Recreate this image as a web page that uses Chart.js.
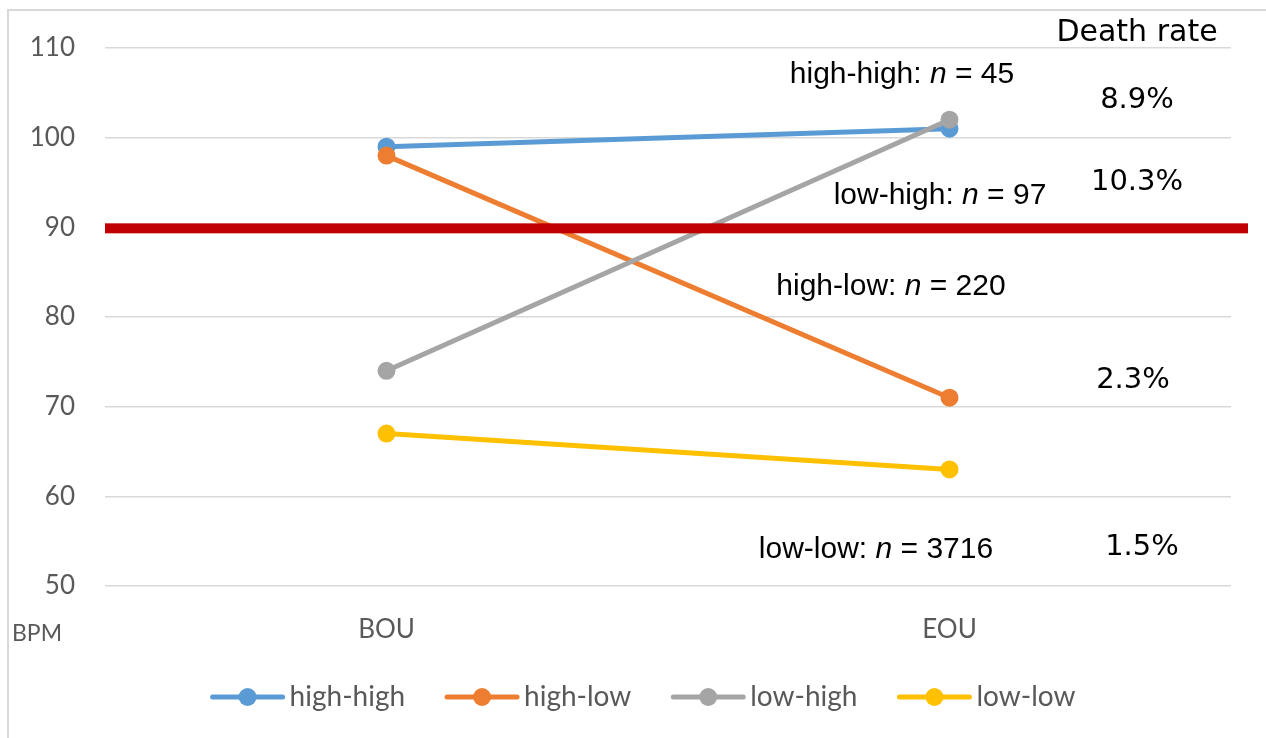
<!DOCTYPE html>
<html><head><meta charset="utf-8">
<script src="https://cdn.jsdelivr.net/npm/chart.js@4"></script>
<style>html,body{margin:0;padding:0;background:#fff;} #wrap{position:absolute;left:0;top:0;width:1266px;height:738px;}</style>
</head><body><div id="wrap"><canvas id="c"></canvas></div>
<script>
// ---- data ----
const categories = ['BOU', 'EOU'];
const seriesNames = ['high-high', 'high-low', 'low-high', 'low-low'];
const highHigh = [99, 101];
const highLow = [98, 71];
const lowHigh = [74, 102];
const lowLow = [67, 63];
const yTicks = [50, 60, 70, 80, 90, 100, 110];
const threshold = 90;
const groupLabels = ['high-high', 'low-high', 'high-low', 'low-low'];
const groupN = [45, 97, 220, 3716];
const deathRates = ['8.9%', '10.3%', '2.3%', '1.5%'];
const deathRateTitle = 'Death rate';
const yUnit = 'BPM';

// ---- styles / layout ----
const seriesColors = ['#5B9BD5', '#ED7D31', '#A5A5A5', '#FFC000'];
const annoLayout = {
  nX: [902, 940, 891, 876], nY: [107, 93.5, 83.35, 54.1],
  rateX: [1137, 1137, 1133, 1142], rateY: [104.2, 95, 72.9, 54.35],
  titleX: 1137, titleY: 111.7
};
const allSeries = [highHigh, highLow, lowHigh, lowLow];

const overlay = {
  id: 'overlay',
  beforeDraw(chart) {
    const ctx = chart.ctx;
    ctx.save();
    ctx.fillStyle = '#fff';
    ctx.fillRect(0, 0, chart.width, chart.height);
    ctx.strokeStyle = '#d9d9d9';
    ctx.lineWidth = 2;
    ctx.beginPath();
    ctx.moveTo(8, chart.height);
    ctx.lineTo(8, 10);
    ctx.lineTo(chart.width, 10);
    ctx.stroke();
    ctx.restore();
  },
  afterDatasetsDraw(chart) {
    const ctx = chart.ctx;
    const y = chart.scales.y;
    const area = chart.chartArea;
    ctx.save();
    // threshold line
    const ty = y.getPixelForValue(threshold);
    ctx.fillStyle = '#C00000';
    ctx.fillRect(area.left, ty - 4, area.right + 17 - area.left, 10);

    // group labels
    ctx.fillStyle = '#000';
    ctx.textBaseline = 'middle';
    const normal = '30px "Liberation Sans", Arial, sans-serif';
    const italic = 'italic 30px "Liberation Sans", Arial, sans-serif';
    groupLabels.forEach((g, i) => {
      const parts = [[g + ': ', normal], ['n', italic], [' = ' + groupN[i], normal]];
      let total = 0;
      parts.forEach(p => { ctx.font = p[1]; total += ctx.measureText(p[0]).width; });
      let x = annoLayout.nX[i] - total / 2;
      const py = y.getPixelForValue(annoLayout.nY[i]);
      ctx.textAlign = 'left';
      parts.forEach(p => { ctx.font = p[1]; ctx.fillText(p[0], x, py); x += ctx.measureText(p[0]).width; });
      ctx.font = '29px "DejaVu Sans", sans-serif';
      ctx.textAlign = 'center';
      ctx.fillText(deathRates[i], annoLayout.rateX[i], y.getPixelForValue(annoLayout.rateY[i]));
    });
    ctx.font = '30px "DejaVu Sans", sans-serif';
    ctx.textAlign = 'center';
    ctx.fillText(deathRateTitle, annoLayout.titleX, y.getPixelForValue(annoLayout.titleY));

    // unit label
    ctx.fillStyle = '#595959';
    ctx.font = '23px Lato, sans-serif';
    ctx.textAlign = 'left';
    ctx.fillText(yUnit, 12, 634);

    // legend
    const lineLen = 74, gapText = 5, gapItem = 40, ly = 697;
    ctx.font = '28px Lato, sans-serif';
    const widths = chart.data.datasets.map(d => lineLen + gapText + ctx.measureText(d.label).width);
    const totalW = widths.reduce((a, b) => a + b, 0) + gapItem * (widths.length - 1);
    let lx = 643 - totalW / 2;
    chart.data.datasets.forEach((d, i) => {
      ctx.strokeStyle = d.borderColor;
      ctx.lineWidth = 5;
      ctx.lineCap = 'round';
      ctx.beginPath();
      ctx.moveTo(lx + 2, ly);
      ctx.lineTo(lx + lineLen - 2, ly);
      ctx.stroke();
      ctx.fillStyle = d.borderColor;
      ctx.beginPath();
      ctx.arc(lx + lineLen / 2, ly, 9, 0, Math.PI * 2);
      ctx.fill();
      ctx.fillStyle = '#595959';
      ctx.textAlign = 'left';
      ctx.fillText(d.label, lx + lineLen + gapText, ly);
      lx += widths[i] + gapItem;
    });
    ctx.restore();
  }
};

new Chart(document.getElementById('c'), {
  type: 'line',
  data: {
    labels: categories,
    datasets: seriesNames.map((name, i) => ({
      label: name,
      data: allSeries[i],
      borderColor: seriesColors[i],
      backgroundColor: seriesColors[i],
      borderWidth: 5,
      pointRadius: 8,
      pointBorderWidth: 2,
      pointHoverRadius: 8,
      order: 4 - i,
      tension: 0
    }))
  },
  options: {
    responsive: true,
    maintainAspectRatio: false,
    animation: false,
    layout: { padding: { left: 0, right: 35, top: 48, bottom: 92 } },
    plugins: { legend: { display: false }, tooltip: { enabled: false } },
    scales: {
      x: {
        offset: true,
        grid: { display: false },
        border: { display: false },
        ticks: { color: '#595959', font: { family: 'Lato', size: 26 }, padding: 20 },
        afterFit(s) { s.height = 60; }
      },
      y: {
        min: 50, max: 110,
        afterBuildTicks(s) { s.ticks = yTicks.map(v => ({ value: v })); },
        grid: { color: '#d9d9d9', lineWidth: 1.5, drawTicks: false },
        border: { display: false },
        ticks: { color: '#595959', font: { family: 'Lato', size: 26 }, padding: 30 },
        afterFit(s) { s.width = 105; }
      }
    }
  },
  plugins: [overlay]
});
</script>
</body></html>
